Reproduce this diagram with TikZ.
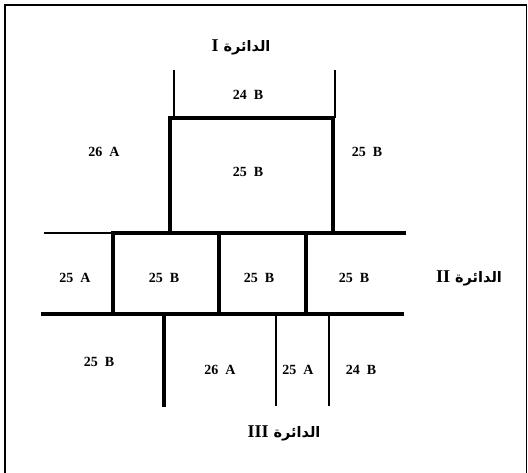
\documentclass[tikz,border=0pt]{standalone}
\usepackage{fontspec}
\setmainfont{Liberation Serif}
\newfontfamily\arabicfont[Script=Arabic]{DejaVu Sans}
\TeXXeTstate=1
\begin{document}
\begin{tikzpicture}[x=1pt,y=-1pt,
  thickline/.style={line width=3.8pt,line join=miter,line cap=rect},
  midline/.style={line width=2.4pt,line cap=rect},
  thinline/.style={line width=1.4pt},
  lbl/.style={font=\fontsize{14}{14}\selectfont\bfseries,inner sep=0pt},
  circ/.style={inner sep=0pt}]
\useasboundingbox (0,0) rectangle (528,473);
\fill[white] (0,0) rectangle (528,473);
% frame
\draw[line width=1.3pt] (5,474) -- (5,5) -- (526.5,5) -- (526.5,474);
% upper thin verticals
\draw[thinline] (174,70) -- (174,118);
\draw[thinline] (335,70) -- (335,118);
% upper thick box
\draw[thickline] (170,233) -- (170,118) -- (333,118) -- (333,233);
% band top line
\draw[midline] (45,233) -- (113,233);
\draw[thickline] (113,233) -- (404,233);
% band bottom line
\draw[thickline] (43,314) -- (402,314);
% band verticals
\draw[thickline] (113,233) -- (113,314);
\draw[thickline] (219,233) -- (219,314);
\draw[thickline] (306,233) -- (306,314);
% bottom verticals
\draw[thickline] (164,314) -- (164,405);
\draw[thinline] (276,314) -- (276,406);
\draw[thinline] (329,314) -- (329,406);
% labels
\node[lbl] (t1) at (248,95) {24\hspace{0.5em}B};
\node[lbl] (t2) at (104,152) {26\hspace{0.5em}A};
\node[lbl] (t3) at (248,172) {25\hspace{0.5em}B};
\node[lbl] (t4) at (367,152) {25\hspace{0.5em}B};
\node[lbl] (m1) at (75,278) {25\hspace{0.5em}A};
\node[lbl] (m2) at (164,278) {25\hspace{0.5em}B};
\node[lbl] (m3) at (259,278) {25\hspace{0.5em}B};
\node[lbl] (m4) at (354,278) {25\hspace{0.5em}B};
\node[lbl] (b1) at (99,362) {25\hspace{0.5em}B};
\node[lbl] (b2) at (220,370) {26\hspace{0.5em}A};
\node[lbl] (b3) at (298,370) {25\hspace{0.5em}A};
\node[lbl] (b4) at (361,370) {24\hspace{0.5em}B};
% circle names
\node[circ] (c1) at (241,47) {\arabicfont\bfseries\fontsize{14.5}{15}\selectfont\beginR الدائرة {\rmfamily\fontsize{18}{18}\selectfont\beginL I\endL}\endR};
\node[circ] (c2) at (469,278) {\arabicfont\bfseries\fontsize{14.5}{15}\selectfont\beginR الدائرة {\rmfamily\fontsize{18}{18}\selectfont\beginL II\endL}\endR};
\node[circ] (c3) at (284,433) {\arabicfont\bfseries\fontsize{14.5}{15}\selectfont\beginR الدائرة {\rmfamily\fontsize{18}{18}\selectfont\beginL III\endL}\endR};
\end{tikzpicture}
\end{document}
